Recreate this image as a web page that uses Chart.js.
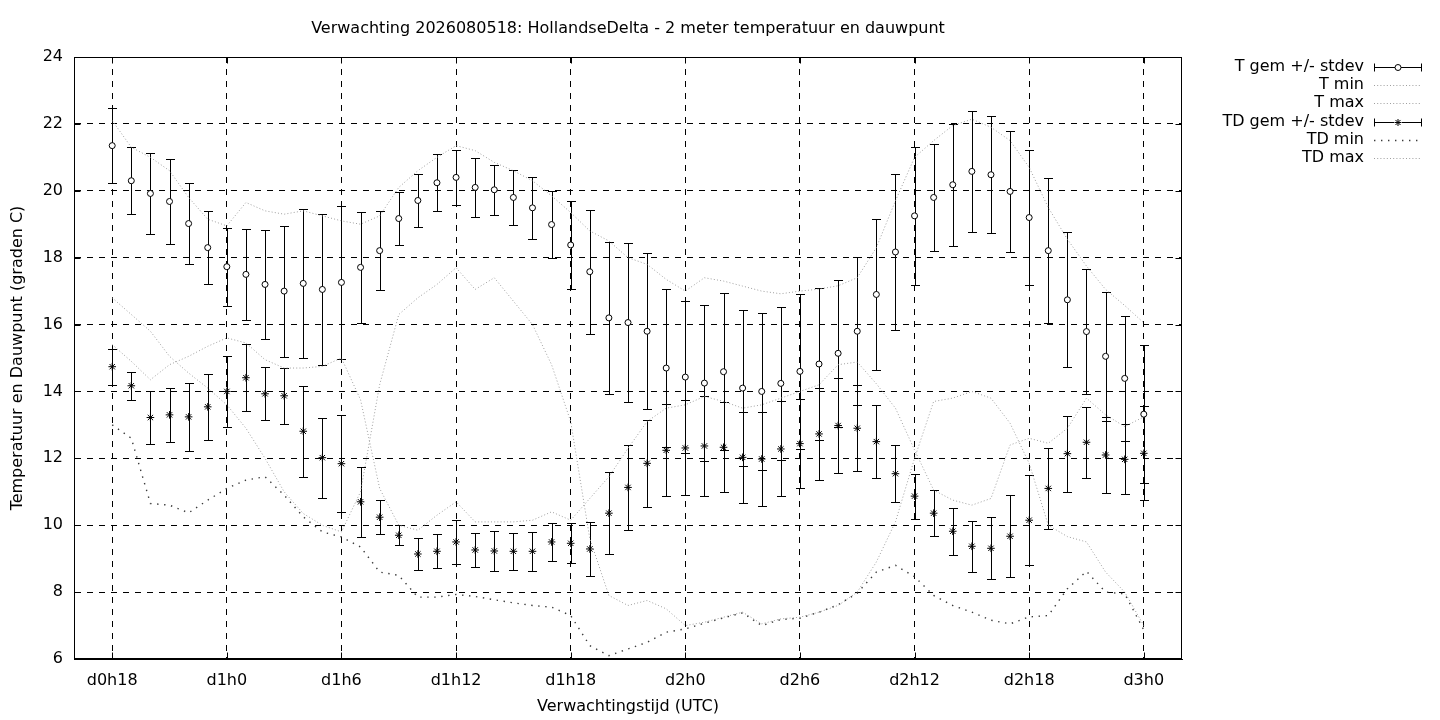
<!DOCTYPE html>
<html>
<head>
<meta charset="utf-8">
<script src="https://cdn.jsdelivr.net/npm/chart.js@4.4.1/dist/chart.umd.min.js"></script>
<style>
html,body{margin:0;padding:0;background:#fff;}
#wrap{width:1440px;height:720px;position:relative;}
</style>
</head>
<body>
<div id="wrap"><canvas id="c" width="1440" height="720"></canvas></div>
<script>
// ---- data (forecast hour since run) ----
const hours = [18,19,20,21,22,23,24,25,26,27,28,29,30,31,32,33,34,35,36,37,38,39,40,41,42,43,44,45,46,47,48,49,50,51,52,53,54,55,56,57,58,59,60,61,62,63,64,65,66,67,68,69,70,71,72];

const tMean = [21.35,20.3,19.92,19.68,19.02,18.3,17.73,17.5,17.2,17.0,17.23,17.05,17.26,17.71,18.21,19.17,19.71,20.24,20.4,20.1,20.03,19.8,19.49,18.99,18.38,17.58,16.2,16.06,15.8,14.7,14.43,14.25,14.59,14.1,14.0,14.24,14.6,14.82,15.14,15.8,16.9,18.17,19.25,19.8,20.18,20.58,20.48,19.98,19.2,18.21,16.74,15.79,15.05,14.39,13.32];
const tSd = [1.12,1.0,1.22,1.26,1.2,1.09,1.17,1.36,1.63,1.96,2.22,2.25,2.29,1.66,1.19,0.8,0.78,0.85,0.83,0.88,0.74,0.82,0.92,1.0,1.32,1.86,2.28,2.39,2.33,2.36,2.26,2.34,2.35,2.33,2.36,2.28,2.31,2.26,2.19,2.21,2.26,2.32,2.07,1.61,1.82,1.8,1.75,1.8,2.01,2.17,2.02,1.87,1.93,1.88,2.07];
const tMin = [16.8,16.3,15.8,15.05,14.55,14.1,13.6,12.9,12.0,11.0,10.35,10.0,9.8,11.0,14.2,16.3,16.8,17.2,17.7,17.05,17.4,16.7,16.0,14.8,13.1,9.6,7.9,7.6,7.75,7.5,7.0,7.1,7.25,7.4,7.05,7.2,7.25,7.4,7.6,8.0,8.9,10.1,12.0,13.7,13.8,14.0,13.8,13.05,11.85,10.0,9.66,9.5,8.6,8.0,7.0];
const tMax = [22.1,21.3,21.0,20.6,19.8,19.15,18.95,19.65,19.4,19.3,19.4,19.25,19.1,19.0,19.25,20.1,20.6,21.0,21.35,21.2,20.85,20.6,20.3,19.85,19.35,18.8,18.5,18.0,17.8,17.35,17.0,17.4,17.3,17.15,17.0,16.92,17.0,17.06,17.16,17.4,18.3,19.7,21.0,21.5,21.95,22.14,21.9,21.5,20.7,19.5,18.55,17.75,17.05,16.57,16.05];

const tdMean = [14.74,14.17,13.22,13.3,13.24,13.54,14.0,14.41,13.93,13.87,12.81,12.02,11.84,10.7,10.24,9.7,9.14,9.22,9.5,9.26,9.23,9.22,9.22,9.5,9.46,9.29,10.36,11.13,11.85,12.24,12.31,12.37,12.33,12.03,11.98,12.28,12.44,12.73,12.98,12.9,12.5,11.54,10.87,10.36,9.82,9.37,9.31,9.67,10.15,11.1,12.14,12.48,12.1,11.97,12.15];
const tdSd = [0.54,0.42,0.79,0.8,1.02,0.98,1.05,1.0,0.79,0.83,1.36,1.2,1.45,1.04,0.51,0.3,0.47,0.51,0.67,0.51,0.6,0.56,0.58,0.58,0.6,0.82,1.22,1.26,1.3,1.37,1.42,1.5,1.35,1.36,1.41,1.42,1.32,1.37,1.43,1.29,1.1,0.85,0.67,0.68,0.7,0.77,0.93,1.22,1.35,1.2,1.14,1.06,1.15,1.05,1.41];
const tdMin = [13.0,12.6,10.65,10.6,10.37,10.75,11.1,11.35,11.45,10.9,10.25,9.8,9.65,9.35,8.6,8.5,7.85,7.85,7.93,7.87,7.77,7.68,7.6,7.55,7.3,6.4,6.1,6.3,6.5,6.8,6.9,7.07,7.23,7.38,7.0,7.18,7.22,7.4,7.62,7.97,8.6,8.8,8.46,7.9,7.6,7.4,7.16,7.05,7.26,7.3,8.1,8.62,8.0,7.95,6.87];
const tdMax = [15.4,14.9,14.35,14.8,15.05,15.35,15.6,15.45,14.95,14.7,14.7,14.75,15.0,13.75,11.1,10.0,9.85,10.3,10.7,10.1,10.1,10.1,10.15,10.4,10.15,10.8,11.45,12.3,13.1,13.5,13.6,13.85,13.7,13.5,13.6,13.8,14.0,14.2,14.8,14.88,14.23,13.5,12.25,11.05,10.75,10.6,10.8,12.4,12.6,12.45,12.9,13.8,13.3,12.95,13.24];

const xTickValues = [18,24,30,36,42,48,54,60,66,72];
const xTickLabels = ['d0h18','d1h0','d1h6','d1h12','d1h18','d2h0','d2h6','d2h12','d2h18','d3h0'];
const yTickValues = [6,8,10,12,14,16,18,20,22,24];

const legendLabels = ['T gem +/- stdev','T min','T max','TD gem +/- stdev','TD min','TD max'];
const titleText = 'Verwachting 2026080518: HollandseDelta - 2 meter temperatuur en dauwpunt';
const xTitle = 'Verwachtingstijd (UTC)';
const yTitle = 'Temperatuur en Dauwpunt (graden C)';

// ---- styles ----
const FONT = 16;
const FAMILY = "'DejaVu Sans', 'Liberation Sans', sans-serif";
const FINE = {color:'#9e9e9e', width:1, dash:[1,2.2]};
const SPARSE = {color:'#3a3a3a', width:1.4, dash:[1.4,5.6]};

Chart.defaults.font.family = FAMILY;
Chart.defaults.font.size = FONT;
Chart.defaults.color = '#000';

const pts = arr => hours.map((h,i)=>({x:h, y:arr[i]}));

function drawStar(ctx, x, y, r){
  ctx.beginPath();
  ctx.moveTo(x-r,y); ctx.lineTo(x+r,y);
  ctx.moveTo(x,y-r); ctx.lineTo(x,y+r);
  const d = r*0.72;
  ctx.moveTo(x-d,y-d); ctx.lineTo(x+d,y+d);
  ctx.moveTo(x-d,y+d); ctx.lineTo(x+d,y-d);
  ctx.stroke();
}

const framePlugin = {
  id:'frame',
  beforeDatasetsDraw(chart){
    const {ctx, chartArea:a, scales:{x,y}} = chart;
    ctx.save();
    ctx.strokeStyle = '#000';
    ctx.lineWidth = 1;
    ctx.setLineDash([]);
    const L = Math.round(a.left)+0.5, R = Math.round(a.right)-0.5, T = Math.round(a.top)+0.5, B = Math.round(a.bottom)-0.5;
    ctx.strokeRect(L, T, R-L, B-T);
    const tl = 6;
    ctx.beginPath();
    xTickValues.forEach(v=>{
      const px = Math.round(x.getPixelForValue(v))+0.5;
      ctx.moveTo(px,B); ctx.lineTo(px,B-tl);
      ctx.moveTo(px,T); ctx.lineTo(px,T+tl);
    });
    yTickValues.forEach(v=>{
      const py = Math.round(y.getPixelForValue(v))+0.5;
      ctx.moveTo(L,py); ctx.lineTo(L+tl,py);
      ctx.moveTo(R,py); ctx.lineTo(R-tl,py);
    });
    ctx.stroke();
    // error bars
    const cap = 4.5;
    const bars = (means, sds) => {
      ctx.beginPath();
      for (let i=0;i<hours.length;i++){
        const px = Math.round(x.getPixelForValue(hours[i]))+0.5;
        const top = Math.round(y.getPixelForValue(means[i]+sds[i]))+0.5;
        const bot = Math.round(y.getPixelForValue(means[i]-sds[i]))+0.5;
        ctx.moveTo(px,top); ctx.lineTo(px,bot);
        ctx.moveTo(px-cap,top); ctx.lineTo(px+cap,top);
        ctx.moveTo(px-cap,bot); ctx.lineTo(px+cap,bot);
      }
      ctx.stroke();
    };
    bars(tMean, tSd);
    bars(tdMean, tdSd);
    ctx.restore();
  }
};

const legendPlugin = {
  id:'gpLegend',
  afterDraw(chart){
    const ctx = chart.ctx;
    ctx.save();
    ctx.font = FONT + 'px ' + FAMILY;
    ctx.fillStyle = '#000';
    ctx.textAlign = 'right';
    ctx.textBaseline = 'middle';
    const textR = 1364, s0 = 1374, s1 = 1422;
    legendLabels.forEach((lab,i)=>{
      const yy = Math.round(67 + i*18.2);
      ctx.fillText(lab, textR, yy);
      const ly = yy + 0.5;
      ctx.beginPath();
      if (i===0 || i===3){
        ctx.strokeStyle='#000'; ctx.lineWidth=1; ctx.setLineDash([]);
        ctx.moveTo(s0,ly); ctx.lineTo(s1,ly);
        ctx.moveTo(s0+0.5,ly-4); ctx.lineTo(s0+0.5,ly+4);
        ctx.moveTo(s1-0.5,ly-4); ctx.lineTo(s1-0.5,ly+4);
        ctx.stroke();
        const cx = (s0+s1)/2;
        if (i===0){
          ctx.beginPath(); ctx.arc(cx, ly, 3, 0, Math.PI*2);
          ctx.fillStyle='#fff'; ctx.fill(); ctx.stroke(); ctx.fillStyle='#000';
        } else {
          ctx.fillStyle='#fff'; ctx.fillRect(cx-4,ly-4,8,8); ctx.fillStyle='#000';
          drawStar(ctx, cx, ly, 3.5);
        }
      } else {
        const st = (i===4) ? SPARSE : FINE;
        ctx.strokeStyle = st.color; ctx.lineWidth = st.width; ctx.setLineDash(st.dash);
        ctx.moveTo(s0,ly); ctx.lineTo(s1,ly);
        ctx.stroke();
      }
    });
    ctx.restore();
  }
};

const lineDs = (label, arr, st) => ({
  label, data: pts(arr), type:'line', showLine:true,
  borderColor: st.color, borderWidth: st.width, borderDash: st.dash,
  pointRadius:0, fill:false, tension:0
});

new Chart(document.getElementById('c'), {
  type:'scatter',
  data:{
    datasets:[
      {label:legendLabels[0], data:pts(tMean), pointStyle:'circle', pointRadius:3, pointBorderWidth:1, pointBackgroundColor:'#fff', pointBorderColor:'#000', showLine:false},
      {label:legendLabels[3], data:pts(tdMean), pointStyle:'star', pointRadius:3.8, pointBorderWidth:1, pointBackgroundColor:'#000', pointBorderColor:'#000', showLine:false},
      lineDs(legendLabels[1], tMin, FINE),
      lineDs(legendLabels[2], tMax, FINE),
      lineDs(legendLabels[4], tdMin, SPARSE),
      lineDs(legendLabels[5], tdMax, FINE)
    ]
  },
  options:{
    responsive:false,
    devicePixelRatio:1,
    animation:false,
    events:[],
    layout:{padding:{left:0,right:258,top:0,bottom:0}},
    plugins:{
      legend:{display:false},
      tooltip:{enabled:false},
      title:{display:true, text:titleText, fullSize:false, color:'#000',
        font:{size:FONT, weight:'normal', family:FAMILY},
        padding:{top:19.4,bottom:18.4}}
    },
    scales:{
      x:{type:'linear', min:16, max:74,
        afterFit(s){ s.height = 61; },
        afterBuildTicks(s){ s.ticks = xTickValues.map(v=>({value:v})); },
        ticks:{autoSkip:false, maxRotation:0, padding:12, color:'#000',
          callback:(v)=>{ const k = xTickValues.indexOf(v); return k>=0 ? xTickLabels[k] : ''; }},
        grid:{color:'#000', lineWidth:1, drawTicks:false},
        border:{display:true, color:'#000', width:1, dash:[6,6]},
        title:{display:true, text:xTitle, color:'#000', font:{size:FONT}, padding:{top:0,bottom:3.4}}
      },
      y:{type:'linear', min:6, max:24,
        afterFit(s){ s.width = 74; },
        afterBuildTicks(s){ s.ticks = yTickValues.map(v=>({value:v})); },
        ticks:{padding:11, color:'#000', callback:(v)=>String(v)},
        grid:{color:'#000', lineWidth:1, drawTicks:false},
        border:{display:true, color:'#000', width:1, dash:[6,6]},
        title:{display:true, text:yTitle, color:'#000', font:{size:FONT}, padding:{top:8.4,bottom:0}}
      }
    }
  },
  plugins:[framePlugin, legendPlugin]
});
</script>
</body>
</html>
